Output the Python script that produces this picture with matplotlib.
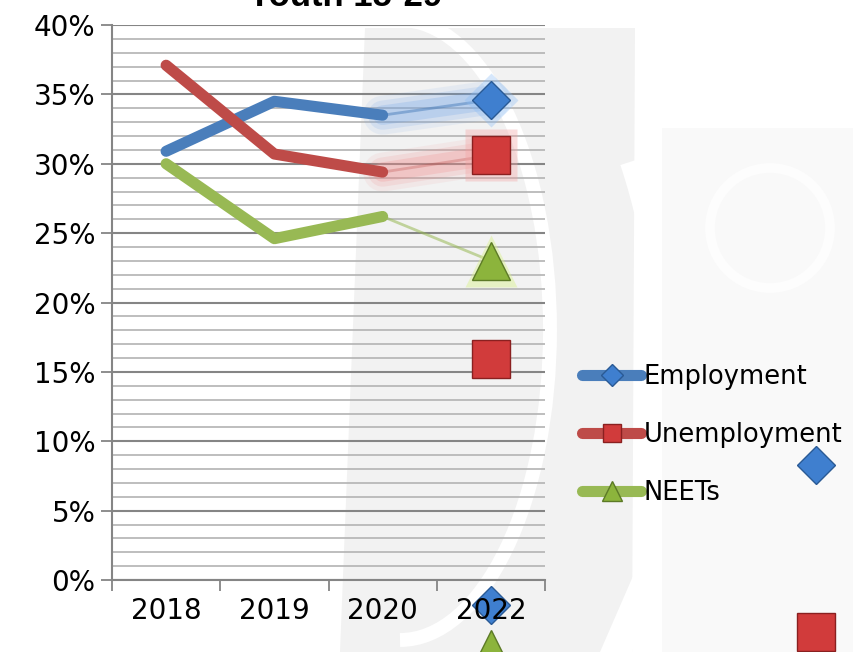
import matplotlib
matplotlib.use("Agg")
import matplotlib.pyplot as plt
from matplotlib.lines import Line2D
from matplotlib.patches import Polygon, Ellipse, Rectangle, Arc
from matplotlib.ticker import MultipleLocator, FuncFormatter

# data (percent)
years = ["2018", "2019", "2020", "2022"]
employment = [30.9, 34.5, 33.5, 34.6]
unemployment = [37.1, 30.7, 29.4, 30.6]
neets = [30.0, 24.6, 26.2, 23.0]

# stray marker copies seen in the picture (category index, percent)
extra_emp_x, extra_emp_y = [3, 6], [-1.8, 8.3]
extra_unemp_x, extra_unemp_y = [3, 6], [15.9, -3.75]
extra_neet_x, extra_neet_y = [3], [-5.0]

BLUE = "#4a7ebb"
RED = "#be4b48"
GREEN = "#98b954"

W, H = 854, 652
fig = plt.figure(figsize=(W / 100, H / 100), dpi=100)
fig.patch.set_facecolor("white")

# faint background watermark, drawn in pixel coords
bg = fig.add_axes([0, 0, 1, 1], zorder=0)
bg.set_xlim(0, W)
bg.set_ylim(H, 0)
bg.axis("off")
bg.add_patch(Polygon([[365, 28], [635, 28], [632, 652], [340, 652], [350, 400]],
                     closed=True, fc="#f2f2f2", ec="none"))
bg.add_patch(Arc((400, 330), 300, 620, theta1=-90, theta2=90, color="white", lw=10))
bg.add_patch(Arc((520, 460), 300, 860, theta1=-70, theta2=70, color="white", lw=12))
bg.add_patch(Rectangle((662, 128), 192, 524, fc="#f9f9f9", ec="none"))
bg.add_patch(Ellipse((770, 228), 120, 120, fc="none", ec="#fdfdfd", lw=7))
bg.add_patch(Polygon([[600, 652], [640, 560], [662, 560], [632, 652]],
                     closed=True, fc="white", ec="none"))

ax = fig.add_axes([112 / W, 1 - 580 / H, (545 - 112) / W, (580 - 25) / H], zorder=2)
ax.set_facecolor("none")

x = list(range(len(years)))

# glow under the 2020 -> 2022 segments
for lw, a in [(28, 0.10), (21, 0.16), (14, 0.24)]:
    ax.plot(x[2:], employment[2:], color="#6fa3e8", lw=lw, alpha=a, solid_capstyle="round")
    ax.plot(x[2:], unemployment[2:], color="#f08a8a", lw=lw, alpha=a, solid_capstyle="round")
ax.plot(x[2:], employment[2:], color=BLUE, lw=2, alpha=0.5)
ax.plot(x[2:], unemployment[2:], color=RED, lw=2, alpha=0.3)
ax.plot(x[2:], neets[2:], color=GREEN, lw=2, alpha=0.55)

# main lines 2018-2020
for vals, col in [(employment, BLUE), (unemployment, RED), (neets, GREEN)]:
    ax.plot(x[:3], vals[:3], color=col, lw=8, solid_capstyle="round", zorder=3)

# marker glow
ax.plot(x[3], employment[3], "D", ms=28, color="#8bbcf5", alpha=0.35, mec="none", zorder=3)
ax.plot(x[3], unemployment[3], "s", ms=37, color="#f3a0a0", alpha=0.35, mec="none", zorder=3)
ax.plot(x[3], neets[3], "^", ms=38, color="#d8f08a", alpha=0.45, mec="none", zorder=3)

# 2022 markers
ax.plot(x[3], employment[3], "D", ms=19, color="#3f7fcf", mec="#2a5a95", mew=1, zorder=4)
ax.plot(x[3], unemployment[3], "s", ms=27, color="#d13b3b", mec="#8a2020", mew=1, zorder=4)
ax.plot(x[3], neets[3], "^", ms=28, color="#8cb43c", mec="#5c7a26", mew=1, zorder=4)

# stray copies (the low diamond sits behind the 2022 label)
ax.plot(extra_emp_x, extra_emp_y, "D", ms=19, color="#3f7fcf", mec="#2a5a95", mew=1,
        ls="none", clip_on=False, zorder=0.3)
ax.plot(extra_unemp_x, extra_unemp_y, "s", ms=27, color="#d13b3b", mec="#8a2020", mew=1,
        ls="none", clip_on=False, zorder=4)
ax.plot(extra_neet_x, extra_neet_y, "^", ms=28, color="#8cb43c", mec="#5c7a26", mew=1,
        ls="none", clip_on=False, zorder=4)

ax.set_xlim(-0.5, 3.5)
ax.set_ylim(0, 40)
ax.yaxis.set_major_locator(MultipleLocator(5))
ax.yaxis.set_minor_locator(MultipleLocator(1))
ax.yaxis.set_major_formatter(FuncFormatter(lambda v, p: f"{v:.0f}%"))
ax.grid(which="major", axis="y", color="#858585", lw=1.5)
ax.grid(which="minor", axis="y", color="#b3b3b3", lw=1.2)
ax.set_axisbelow(True)

ax.set_xticks([-0.5, 0.5, 1.5, 2.5, 3.5])
ax.set_xticklabels([])
ax.set_xticks(x, minor=True)
ax.set_xticklabels(years, minor=True)
ax.tick_params(axis="x", which="major", length=8, width=1.3, color="#858585", direction="out")
ax.tick_params(axis="x", which="minor", length=0, pad=12, labelsize=20)
ax.tick_params(axis="y", which="major", length=8, width=1.3, color="#858585", labelsize=20, pad=4)
ax.tick_params(axis="y", which="minor", length=0)

for s in ["top", "right"]:
    ax.spines[s].set_visible(False)
ax.spines["left"].set_color("#858585")
ax.spines["left"].set_linewidth(1.5)
ax.spines["bottom"].set_color("#858585")
ax.spines["bottom"].set_linewidth(1.5)

# title sits mostly above the top edge, as in the source
fig.text(345 / W, 1 - 6 / H, "Youth 15-29", ha="center", va="baseline",
         fontsize=25, fontweight="bold", family="Liberation Sans")

handles = [
    Line2D([], [], color=BLUE, lw=8, solid_capstyle="round", marker="D", ms=11,
           mfc="#3f7fcf", mec="#2a5a95"),
    Line2D([], [], color=RED, lw=8, solid_capstyle="round", marker="s", ms=13,
           mfc="#d13b3b", mec="#8a2020"),
    Line2D([], [], color=GREEN, lw=8, solid_capstyle="round", marker="^", ms=15,
           mfc="#8cb43c", mec="#5c7a26"),
]
fig.legend(handles, ["Employment", "Unemployment", "NEETs"], loc="center left",
           bbox_to_anchor=(582 / W, 1 - 435 / H), bbox_transform=fig.transFigure,
           frameon=False, fontsize=18.5, handlelength=2.3, handletextpad=0.1,
           labelspacing=1.25, borderpad=0, borderaxespad=0)

fig.savefig("out.png", dpi=100)
